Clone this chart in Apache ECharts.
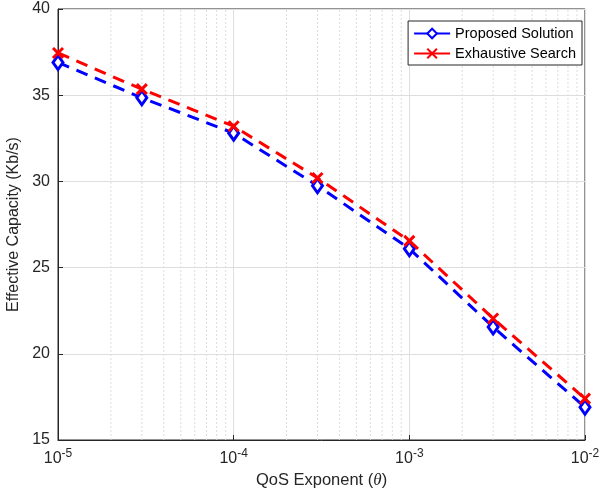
<!DOCTYPE html>
<html>
<head>
<meta charset="utf-8">
<script src="https://cdn.jsdelivr.net/npm/echarts@6/dist/echarts.min.js"></script>
<style>
  html, body { margin: 0; padding: 0; background: #fff; }
</style>
</head>
<body>
<div id="mychart" style="width: 600px;height: 493px"></div>
<script>
  // QoS exponent values (theta)
  var theta = [1e-5, 3e-5, 1e-4, 3e-4, 1e-3, 3e-3, 1e-2]
  var proposed = [36.9, 34.85, 32.8, 29.75, 26.1, 21.55, 16.9]
  var exhaustive = [37.45, 35.35, 33.2, 30.2, 26.55, 22.05, 17.4]
  var yTicks = [15, 20, 25, 30, 35, 40]
  // minor grid positions on the log axis
  var minorTicks = []
  var decades = [1e-5, 1e-4, 1e-3]
  for (var d = 0; d < decades.length; d++) {
    for (var k = 2; k <= 9; k++) {
      minorTicks.push(decades[d] * k)
    }
  }

  var axisColor = '#262626'
  var font = 'Liberation Sans, Arial, sans-serif'

  var xMark = 'path://M0,0L10,10M10,0L0,10'

  // vertical dotted segments, broken by '-' gaps
  var minorData = []
  for (var i = 0; i < minorTicks.length; i++) {
    minorData.push([minorTicks[i], yTicks[0]])
    minorData.push([minorTicks[i], yTicks[yTicks.length - 1]])
    minorData.push([minorTicks[i], '-'])
  }

  var chart = echarts.init(document.getElementById('mychart'))
  chart.setOption({
    animation: false,
    grid: {
      left: 58,
      right: 15,
      top: 9,
      bottom: 53,
      outerBoundsMode: 'none',
      show: true,
      borderColor: axisColor,
      borderWidth: 1,
      backgroundColor: 'transparent'
    },
    legend: {
      orient: 'vertical',
      right: 18,
      top: 21,
      itemWidth: 36,
      itemHeight: 12,
      itemGap: 5,
      padding: [5, 6, 4, 5],
      borderColor: axisColor,
      borderWidth: 1,
      backgroundColor: '#fff',
      lineStyle: { type: 'solid' },
      textStyle: { fontFamily: font, fontSize: 14.5, color: '#000' },
      data: ['Proposed Solution', 'Exhaustive Search']
    },
    xAxis: {
      type: 'log',
      logBase: 10,
      min: 1e-5,
      max: 1e-2,
      name: '{n|QoS Exponent (}{t|θ}{n|)}',
      nameLocation: 'middle',
      nameGap: 32,
      nameTextStyle: {
        rich: {
          n: { fontFamily: font, fontSize: 16.5, color: axisColor },
          t: { fontFamily: 'Liberation Serif, serif', fontStyle: 'italic', fontSize: 17, color: axisColor }
        }
      },
      axisLine: { onZero: false, lineStyle: { color: axisColor } },
      axisTick: { inside: true, length: 5, lineStyle: { color: axisColor } },
      axisLabel: {
        margin: 8,
        formatter: function (v) {
          var e = Math.round(Math.log(v) / Math.LN10)
          return '{b|10}{s|' + e + '}'
        },
        rich: {
          b: { fontFamily: font, fontSize: 16, color: axisColor },
          s: { fontFamily: font, fontSize: 12, color: axisColor, verticalAlign: 'bottom', padding: [0, 0, 10, 0] }
        }
      },
      splitLine: { show: true, lineStyle: { color: '#dedede', width: 1 } }
    },
    yAxis: {
      type: 'value',
      min: yTicks[0],
      max: yTicks[yTicks.length - 1],
      interval: 5,
      name: 'Effective Capacity (Kb/s)',
      nameLocation: 'middle',
      nameGap: 36,
      nameTextStyle: { fontFamily: font, fontSize: 16, color: axisColor },
      axisLine: { show: true, lineStyle: { color: axisColor } },
      axisTick: { show: true, inside: true, length: 5, lineStyle: { color: axisColor } },
      axisLabel: { fontFamily: font, fontSize: 16, color: axisColor, margin: 8 },
      splitLine: { show: true, lineStyle: { color: '#dedede', width: 1 } }
    },
    series: [
      {
        name: 'minor',
        type: 'line',
        data: minorData,
        symbol: 'none',
        connectNulls: false,
        silent: true,
        z: 1,
        lineStyle: { color: '#dddddd', type: [2, 2], width: 1 }
      },
      {
        name: 'Proposed Solution',
        type: 'line',
        data: theta.map(function (t, i) { return [t, proposed[i]] }),
        symbol: 'diamond',
        symbolSize: [10, 14],
        itemStyle: { color: '#fff', borderColor: '#0000ff', borderWidth: 3 },
        lineStyle: { color: '#0000ff', width: 3, type: [12, 8] },
        z: 3
      },
      {
        name: 'Exhaustive Search',
        type: 'line',
        data: theta.map(function (t, i) { return [t, exhaustive[i]] }),
        symbol: xMark,
        symbolSize: 10,
        itemStyle: { color: 'transparent', borderColor: '#ff0000', borderWidth: 3 },
        lineStyle: { color: '#ff0000', width: 3, type: [12, 8] },
        z: 4
      }
    ]
  })
</script>
</body>
</html>
